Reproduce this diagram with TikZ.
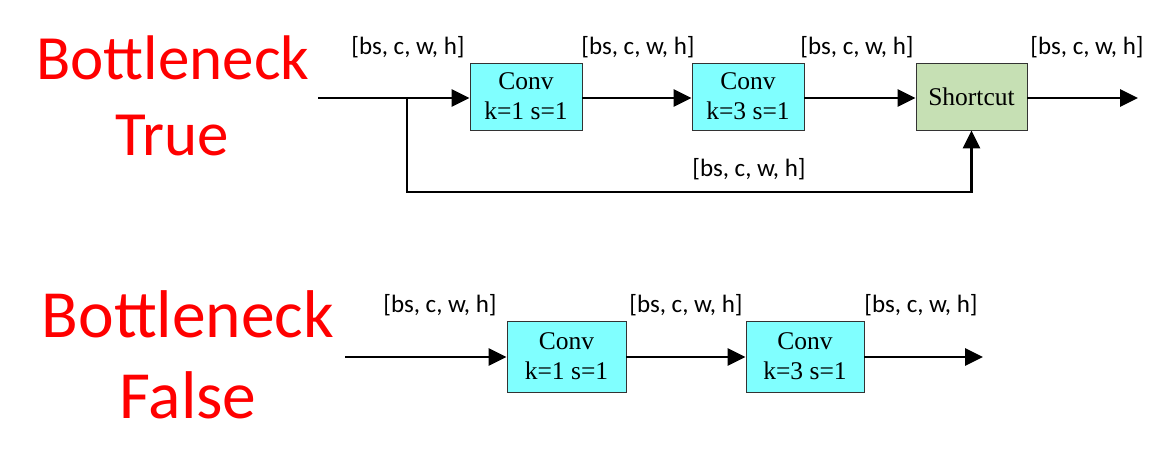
\documentclass[tikz,border=0pt]{standalone}
\usepackage{fontspec}
\setmainfont{Liberation Serif}
\newfontfamily\labelfont{Carlito}
\usetikzlibrary{arrows.meta}
\definecolor{convcyan}{HTML}{80FFFF}
\definecolor{scgreen}{HTML}{C6E0B4}
\begin{document}
\begin{tikzpicture}[x=1pt,y=-1pt,
  blockbox/.style={draw=black!80,line width=0.8pt,minimum width=112pt,minimum height=67pt,
    inner sep=0pt,align=center,font=\fontsize{25.5}{30}\selectfont},
  convbox/.style={blockbox,fill=convcyan},
  scbox/.style={blockbox,fill=scgreen},
  flow/.style={line width=2.8pt,-{Triangle[length=18pt,width=17pt]}},
  dimlabel/.style={font=\labelfont\fontsize{25}{29}\selectfont},
  title/.style={text=red,anchor=base,font=\labelfont\fontsize{63}{72}\selectfont},
  titleb/.style={text=red,anchor=base,font=\labelfont\fontsize{67.5}{76}\selectfont}]
\useasboundingbox (0,0) rectangle (1164,472);

% ---- Bottleneck = True ----
\node[title] (t1a) at (173,79) {Bottleneck};
\node[title] (t1b) at (172,155) {True};

\coordinate (in1) at (318,98);
\coordinate (br) at (407,98);
\coordinate (bcorner) at (407,192);
\coordinate (out1) at (1138,98);
\node[convbox] (c11) at (526,96.5) {Conv\\k=1 s=1};
\node[convbox] (c12) at (748,96.5) {Conv\\k=3 s=1};
\node[scbox,minimum width=111pt] (sc) at (971.5,96.5) {Shortcut};

\draw[flow] (in1) -- (in1 -| c11.west);
\draw[flow] (in1 -| c11.east) -- (in1 -| c12.west);
\draw[flow] (in1 -| c12.east) -- (in1 -| sc.west);
\draw[flow] (in1 -| sc.east) -- (out1);
\draw[flow,line join=miter] (br) -- (bcorner) -| (sc.south);

\node[dimlabel] (s11) at (408,47) {[bs, c, w, h]};
\node[dimlabel] (s12) at (638,47) {[bs, c, w, h]};
\node[dimlabel] (s13) at (857,47) {[bs, c, w, h]};
\node[dimlabel] (s14) at (1087,47) {[bs, c, w, h]};
\node[dimlabel] (s15) at (749,169) {[bs, c, w, h]};

% ---- Bottleneck = False ----
\node[titleb] (t2a) at (188,337) {Bottleneck};
\node[titleb] (t2b) at (188,418) {False};

\coordinate (in2) at (345,357);
\coordinate (out2) at (983,357);
\node[convbox,minimum width=119pt,minimum height=71pt] (c21) at (566.5,356.5) {Conv\\k=1 s=1};
\node[convbox,minimum width=118pt,minimum height=71pt] (c22) at (805,356.5) {Conv\\k=3 s=1};

\draw[flow] (in2) -- (in2 -| c21.west);
\draw[flow] (in2 -| c21.east) -- (in2 -| c22.west);
\draw[flow] (in2 -| c22.east) -- (out2);

\node[dimlabel] (s21) at (440,305) {[bs, c, w, h]};
\node[dimlabel] (s22) at (686,305) {[bs, c, w, h]};
\node[dimlabel] (s23) at (921,305) {[bs, c, w, h]};
\end{tikzpicture}
\end{document}
